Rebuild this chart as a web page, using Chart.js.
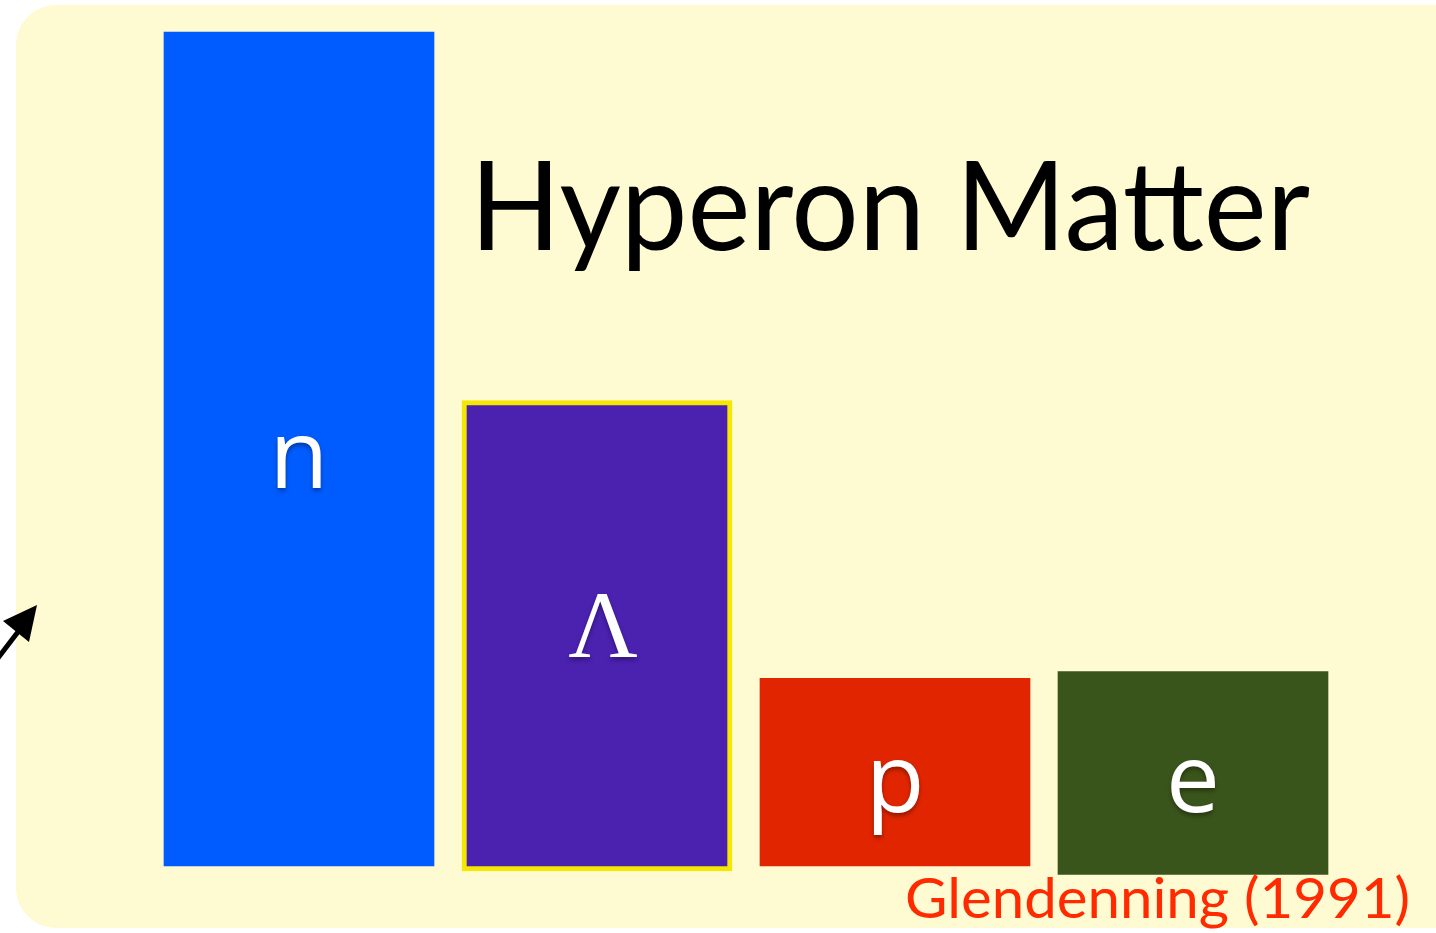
<!DOCTYPE html>
<html>
<head>
<meta charset="utf-8">
<script src="https://cdn.jsdelivr.net/npm/chart.js@4.4.1/dist/chart.umd.min.js"></script>
<style>
  html, body { margin: 0; padding: 0; background: #fff; }
  #wrap { width: 1436px; height: 933px; }
</style>
</head>
<body>
<div id="wrap"><canvas id="hyperon" width="1436" height="933"></canvas></div>
<script>
// particle populations (relative units, n = 100)
const particles = ['n', 'Λ', 'p', 'e'];
const barBases = [0, -0.6, 0, -1.0];
const barTops = [100, 55.8, 22.5, 23.3];
const barColors = ['#005cff', '#4b21b0', '#e12500', '#3a551b'];
const titleText = 'Hyperon Matter';
const sourceText = 'Glendenning (1991)';

// cream rounded panel + arrow + texts
const panelPlugin = {
    id: 'panel',
    beforeDraw(chart) {
        const ctx = chart.ctx;
        ctx.save();
        ctx.fillStyle = '#fefad1';
        ctx.beginPath();
        ctx.roundRect(16, 5, 1460, 923, 40);
        ctx.fill();
        ctx.restore();
    },
    afterDraw(chart) {
        const ctx = chart.ctx;
        ctx.save();
        // arrow on the left edge
        ctx.strokeStyle = '#000';
        ctx.fillStyle = '#000';
        ctx.lineWidth = 5;
        ctx.beginPath();
        ctx.moveTo(-2, 658);
        ctx.lineTo(24, 624);
        ctx.stroke();
        ctx.beginPath();
        ctx.moveTo(37, 605);
        ctx.lineTo(3, 621);
        ctx.lineTo(29, 642);
        ctx.closePath();
        ctx.fill();

        // title
        ctx.fillStyle = '#000';
        ctx.textBaseline = 'alphabetic';
        ctx.textAlign = 'left';
        ctx.font = '124px Lato';
        const w = ctx.measureText(titleText).width;
        ctx.save();
        ctx.translate(470, 250);
        ctx.scale(840 / w, 1);
        ctx.fillText(titleText, 0, 0);
        ctx.restore();

        // source
        ctx.fillStyle = '#ff2a00';
        ctx.font = '56px Lato';
        const sw = ctx.measureText(sourceText).width;
        ctx.save();
        ctx.translate(905, 918);
        ctx.scale(505 / sw, 1);
        ctx.fillText(sourceText, 0, 0);
        ctx.restore();

        // particle labels in the bars
        const meta = chart.getDatasetMeta(0);
        meta.data.forEach((bar, i) => {
            const mid = (bar.y + bar.base) / 2;
            ctx.save();
            ctx.fillStyle = '#fff';
            ctx.shadowColor = 'rgba(0,0,0,0.35)';
            ctx.shadowBlur = 4;
            ctx.shadowOffsetY = 3;
            ctx.textAlign = 'center';
            ctx.textBaseline = 'middle';
            ctx.font = i === 1 ? '96px "Liberation Serif"' : '96px "Open Sans"';
            ctx.fillText(particles[i], bar.x + (i === 1 ? 6 : 0), mid + (i === 1 ? -4 : 12));
            ctx.restore();
        });
        ctx.restore();
    }
};

new Chart(document.getElementById('hyperon'), {
    type: 'bar',
    data: {
        labels: particles,
        datasets: [{
            data: particles.map((p, i) => [barBases[i], barTops[i]]),
            backgroundColor: barColors,
            borderColor: ['#005cff', '#f5e700', '#e12500', '#3a551b'],
            borderWidth: [0, 5, 0, 0],
            borderSkipped: false,
            barThickness: 270,
            clip: false
        }]
    },
    options: {
        responsive: false,
        animation: false,
        layout: { padding: { left: 150, right: 94, top: 32, bottom: 67 } },
        plugins: { legend: { display: false }, tooltip: { enabled: false } },
        scales: {
            x: { display: false },
            y: { display: false, min: 0, max: 100 }
        }
    },
    plugins: [panelPlugin]
});
</script>
</body>
</html>
